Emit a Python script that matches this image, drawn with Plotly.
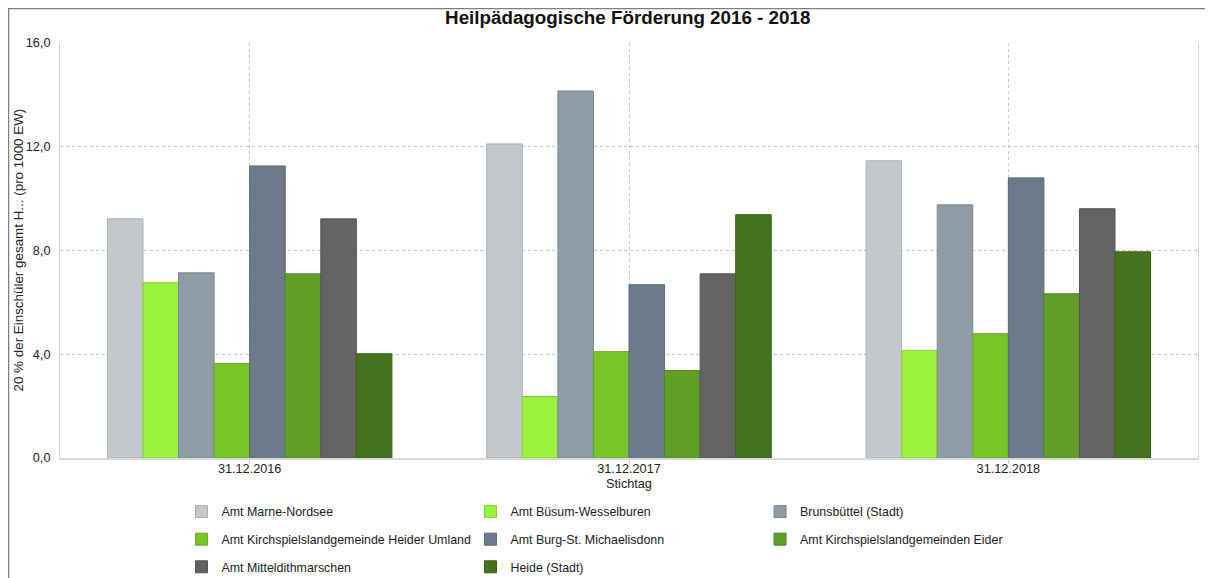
import plotly.graph_objects as go

categories = ["31.12.2016", "31.12.2017", "31.12.2018"]

series_names = [
    "Amt Marne-Nordsee",
    "Amt Büsum-Wesselburen",
    "Brunsbüttel (Stadt)",
    "Amt Kirchspielslandgemeinde Heider Umland",
    "Amt Burg-St. Michaelisdonn",
    "Amt Kirchspielslandgemeinden Eider",
    "Amt Mitteldithmarschen",
    "Heide (Stadt)",
]

marne_nordsee = [9.22, 12.11, 11.46]
buesum_wesselburen = [6.76, 2.37, 4.14]
brunsbuettel = [7.14, 14.15, 9.76]
heider_umland = [3.64, 4.10, 4.79]
burg_michaelisdonn = [11.26, 6.68, 10.80]
eider = [7.10, 3.37, 6.33]
mitteldithmarschen = [9.22, 7.10, 9.61]
heide = [4.02, 9.38, 7.95]

series_values = [marne_nordsee, buesum_wesselburen, brunsbuettel, heider_umland,
                 burg_michaelisdonn, eider, mitteldithmarschen, heide]

fill_colors = ["#c4c8cc", "#99f23c", "#8f9ca6", "#78c52a",
               "#6c7b89", "#609e27", "#636363", "#46721e"]
line_colors = ["#a9aeb3", "#84d42f", "#7a8792", "#66a923",
               "#5b6875", "#518721", "#555555", "#3b6119"]

# which of the three legend columns each series sits in
legend_ids = ["legend", "legend2", "legend3",
              "legend", "legend2", "legend3",
              "legend", "legend2"]

font_family = "Arial, Liberation Sans, sans-serif"

fig = go.Figure()
for name, vals, fc, lc, lg in zip(series_names, series_values, fill_colors, line_colors, legend_ids):
    fig.add_trace(go.Bar(
        x=categories, y=vals, name=name,
        marker=dict(color=fc, line=dict(color=lc, width=1)),
        legend=lg, legendgroup=name,
    ))

legend_style = dict(
    orientation="v", yanchor="top", xanchor="left",
    xref="container", yref="container", y=0.1421,
    font=dict(family=font_family, size=12.4, color="#222"),
    tracegroupgap=8.5, bgcolor="rgba(0,0,0,0)", itemclick=False,
)

# page body has an 8px margin, so the figure is a bit smaller than the window
fig.update_layout(
    width=1205, height=570,
    margin=dict(l=52, r=15, t=35, b=120, autoexpand=False),
    paper_bgcolor="white", plot_bgcolor="white",
    font=dict(family=font_family, size=12.7, color="#222"),
    title=dict(text="<b>Heilpädagogische Förderung 2016 - 2018</b>",
               x=0.5143, xanchor="center", y=0.984, yanchor="middle",
               font=dict(size=18.8, color="#111")),
    barmode="group", bargap=0.25, bargroupgap=0,
    showlegend=True,
    legend=dict(x=0.1440, **legend_style),
    legend2=dict(x=0.3838, **legend_style),
    legend3=dict(x=0.6241, **legend_style),
    xaxis=dict(
        title=dict(text="Stichtag", standoff=4, font=dict(size=12.7)),
        showgrid=True, gridcolor="#c4c4c4", griddash="3px,3px", gridwidth=1,
        showline=True, linecolor="#d9d9d9", linewidth=2,
        ticks="outside", ticklen=4, tickcolor="#c8c8c8",
        ticklabelstandoff=-6,
        tickfont=dict(size=12.7, color="#222"),
    ),
    yaxis=dict(
        range=[0, 16], tickvals=[0, 4, 8, 12, 16],
        ticktext=["0,0", "4,0", "8,0", "12,0", "16,0"],
        showgrid=True, gridcolor="#c4c4c4", griddash="3px,3px", gridwidth=1,
        showline=True, linecolor="#d0d4d6", linewidth=1, mirror=True,
        zeroline=False, ticks="", ticklabelstandoff=6,
        tickfont=dict(size=12.7, color="#222"),
    ),
    annotations=[dict(text="20 % der Einschüler gesamt H... (pro 1000 EW)",
                      xref="paper", yref="paper", x=-0.0369, y=0.5,
                      xanchor="center", yanchor="middle", textangle=-90,
                      showarrow=False, font=dict(size=13.4, color="#222"))],
    shapes=[dict(type="rect", xref="paper", yref="paper",
                 x0=-0.04525, x1=1.03, y0=-0.5, y1=1.083,
                 line=dict(color="#7a7f85", width=1.5), layer="below")],
)

fig.write_html("out.html")
